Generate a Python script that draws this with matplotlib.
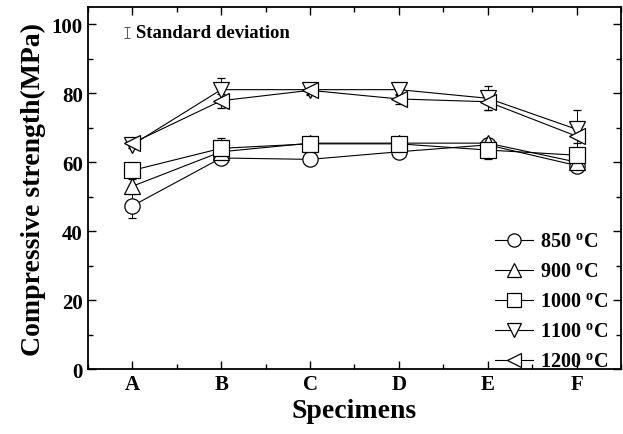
import matplotlib.pyplot as plt
from matplotlib.lines import Line2D
from matplotlib.ticker import MultipleLocator, FixedLocator

plt.rcParams['font.family'] = ['Liberation Serif', 'DejaVu Serif']
plt.rcParams['font.weight'] = 'bold'
plt.rcParams['mathtext.fontset'] = 'custom'
plt.rcParams['mathtext.rm'] = 'Liberation Serif:bold'

specimens = ['A', 'B', 'C', 'D', 'E', 'F']
labels = ['850 $^{\\mathrm{o}}$C', '900 $^{\\mathrm{o}}$C', '1000 $^{\\mathrm{o}}$C',
          '1100 $^{\\mathrm{o}}$C', '1200 $^{\\mathrm{o}}$C']

s850 = [47.3, 61.2, 60.8, 63.0, 65.0, 59.0]
s900 = [53.0, 63.0, 65.5, 65.5, 65.5, 60.0]
s1000 = [57.6, 64.0, 65.3, 65.3, 63.5, 62.0]
s1100 = [65.0, 81.0, 81.0, 81.0, 78.5, 69.5]
s1200 = [65.5, 77.8, 80.8, 78.3, 77.5, 67.5]

e850 = [3.5, 1.5, 1.0, 1.5, 1.5, 2.0]
e900 = [2.0, 1.5, 1.5, 1.5, 1.5, 1.5]
e1000 = [1.5, 3.0, 1.5, 1.5, 2.5, 1.5]
e1100 = [1.0, 3.5, 1.5, 1.5, 3.5, 5.5]
e1200 = [1.5, 2.0, 1.0, 1.5, 2.5, 2.0]

series = [s850, s900, s1000, s1100, s1200]
errors = [e850, e900, e1000, e1100, e1200]
markers = ['o', '^', 's', 'v', '<']

fig = plt.figure(figsize=(6.23, 4.35), dpi=100)
ax = fig.add_axes([0.141, 0.149, 0.856, 0.833])

x = list(range(len(specimens)))
handles = []
for vals, err, m, lab in zip(series, errors, markers, labels):
    ax.errorbar(x, vals, yerr=err, marker=m, markersize=11, mfc='white', mec='black',
                mew=0.9, color='black', lw=0.8, ecolor='black', elinewidth=0.7,
                capsize=3, capthick=0.7)
    handles.append(Line2D([], [], marker=m, markersize=9.5, mfc='white', mec='black',
                          mew=0.9, color='black', lw=0.8, label=lab))

ax.set_xlim(-0.5, 5.5)
ax.set_ylim(0, 105)
ax.set_xticks(x)
ax.set_xticklabels(specimens)
ax.xaxis.set_minor_locator(FixedLocator([i + 0.5 for i in range(-1, 6)]))
ax.yaxis.set_major_locator(MultipleLocator(20))
ax.yaxis.set_minor_locator(MultipleLocator(10))
ax.tick_params(which='both', direction='in', top=True, right=True, labelsize=15)
ax.tick_params(which='major', length=6, width=1)
ax.tick_params(which='minor', length=3.5, width=1)
for lbl in ax.get_xticklabels() + ax.get_yticklabels():
    lbl.set_fontweight('bold')
for sp in ax.spines.values():
    sp.set_linewidth(1.3)

ax.set_xlabel('Specimens', fontsize=20, fontweight='bold', labelpad=3)
ax.set_ylabel('Compressive strength(MPa)', fontsize=20, fontweight='bold', labelpad=4)

ax.errorbar([-0.055], [97.6], yerr=[1.5], fmt='none', ecolor='#555555', elinewidth=0.7,
            capsize=2, capthick=0.7)
ax.text(0.04, 97.6, 'Standard deviation', fontsize=13.5, fontweight='bold', va='center')

leg = ax.legend(handles=handles, loc='lower right', frameon=False, fontsize=14.5,
                handlelength=1.9, handletextpad=0.35, labelspacing=0.5,
                borderaxespad=0.0, bbox_to_anchor=(0.991, -0.03))

fig.savefig('out.png', dpi=100)
